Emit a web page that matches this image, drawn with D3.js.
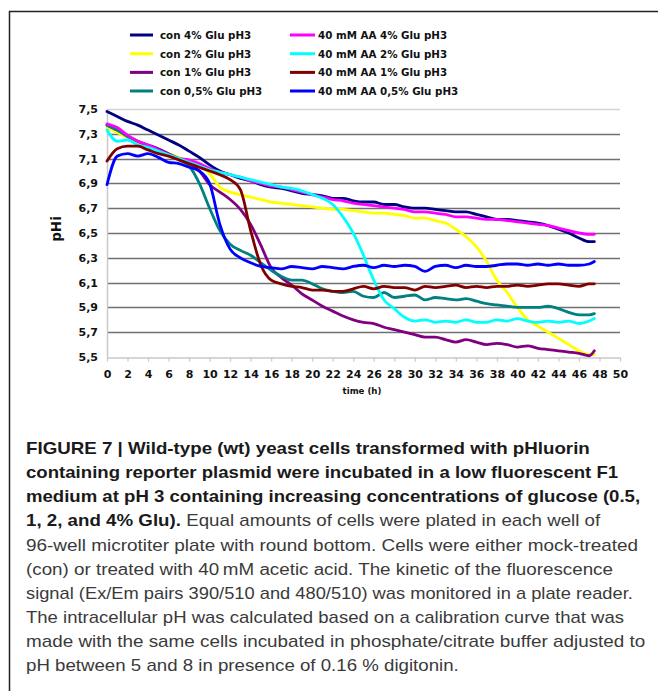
<!DOCTYPE html>
<html>
<head>
<meta charset="utf-8">
<script src="https://cdn.jsdelivr.net/npm/d3@7"></script>
<style>
  html, body { margin: 0; padding: 0; background: #fff; }
  svg { display: block; }
</style>
</head>
<body>
<svg id="fig" width="658" height="691"></svg>
<script>
// Sampling times (h) shared by all series
const hours = [0,1,2,3,4,5,6,7,8,9,10,11,12,13,14,15,16,17,18,19,20,21,22,23,24,
  25,26,27,28,29,30,31,32,33,34,35,36,37,38,39,40,41,42,43,44,45,46,47,47.5];

// Intracellular pH (pHi) per condition
const con4 = [7.48,7.44,7.40,7.37,7.33,7.29,7.25,7.21,7.16,7.11,
  7.05,7.00,6.97,6.94,6.92,6.89,6.87,6.86,6.84,6.82,
  6.81,6.80,6.78,6.78,6.76,6.75,6.75,6.73,6.73,6.71,
  6.70,6.70,6.69,6.68,6.67,6.67,6.65,6.63,6.61,6.61,
  6.60,6.59,6.58,6.56,6.53,6.50,6.46,6.43,6.43];
const con2 = [7.35,7.31,7.27,7.23,7.19,7.17,7.14,7.11,7.08,7.05,
  6.98,6.87,6.83,6.81,6.79,6.77,6.75,6.74,6.73,6.72,
  6.71,6.70,6.69,6.69,6.68,6.67,6.66,6.66,6.65,6.64,
  6.62,6.62,6.60,6.58,6.53,6.47,6.39,6.27,6.12,6.02,
  5.90,5.80,5.75,5.70,5.65,5.60,5.55,5.52,5.52];
const con1 = [7.37,7.33,7.28,7.24,7.21,7.18,7.14,7.10,7.06,7.00,
  6.89,6.83,6.77,6.69,6.57,6.40,6.22,6.14,6.08,6.01,
  5.96,5.91,5.87,5.83,5.80,5.78,5.77,5.74,5.72,5.70,
  5.68,5.66,5.66,5.64,5.62,5.64,5.62,5.60,5.61,5.60,
  5.58,5.59,5.57,5.56,5.55,5.54,5.53,5.51,5.55];
const con05 = [7.37,7.33,7.28,7.24,7.20,7.16,7.13,7.09,7.04,6.90,
  6.70,6.52,6.41,6.36,6.32,6.26,6.20,6.15,6.12,6.12,
  6.09,6.05,6.03,6.02,6.03,5.99,5.98,6.02,5.98,5.99,
  6.00,5.96,5.98,5.97,5.96,5.97,5.95,5.93,5.92,5.91,
  5.90,5.90,5.90,5.91,5.89,5.86,5.84,5.84,5.85];
const aa4 = [7.38,7.35,7.29,7.24,7.21,7.17,7.13,7.10,7.09,7.06,
  7.02,6.99,6.97,6.95,6.92,6.90,6.88,6.87,6.85,6.83,
  6.81,6.79,6.77,6.76,6.74,6.73,6.72,6.71,6.70,6.69,
  6.67,6.67,6.66,6.65,6.63,6.63,6.62,6.61,6.61,6.60,
  6.59,6.58,6.57,6.56,6.54,6.52,6.50,6.49,6.49];
const aa2 = [7.33,7.24,7.25,7.21,7.19,7.16,7.13,7.10,7.07,7.04,
  7.01,6.99,6.97,6.95,6.93,6.91,6.89,6.87,6.86,6.84,
  6.81,6.78,6.73,6.63,6.50,6.32,6.12,5.96,5.89,5.82,
  5.79,5.80,5.78,5.79,5.78,5.80,5.78,5.78,5.80,5.79,
  5.81,5.79,5.78,5.79,5.78,5.79,5.77,5.79,5.81];
const aa1 = [7.08,7.18,7.20,7.20,7.17,7.14,7.12,7.09,7.06,7.03,
  7.00,6.97,6.93,6.85,6.52,6.24,6.12,6.09,6.07,6.06,
  6.04,6.04,6.03,6.03,6.05,6.07,6.05,6.07,6.06,6.06,
  6.04,6.07,6.06,6.07,6.08,6.06,6.07,6.06,6.07,6.07,
  6.08,6.07,6.08,6.09,6.09,6.08,6.07,6.09,6.09];
const aa05 = [6.89,7.12,7.14,7.12,7.14,7.11,7.07,7.06,7.03,7.00,
  6.90,6.57,6.37,6.30,6.26,6.23,6.22,6.21,6.23,6.22,
  6.21,6.23,6.22,6.21,6.23,6.24,6.22,6.24,6.23,6.24,
  6.23,6.19,6.23,6.24,6.22,6.24,6.23,6.23,6.24,6.25,
  6.25,6.24,6.25,6.24,6.25,6.24,6.24,6.25,6.27];

const seriesNames = ["con 4% Glu pH3","con 2% Glu pH3","con 1% Glu pH3","con 0,5% Glu pH3",
  "40 mM AA 4% Glu pH3","40 mM AA 2% Glu pH3","40 mM AA 1% Glu pH3","40 mM AA 0,5% Glu pH3"];
const seriesValues = [con4, con2, con1, con05, aa4, aa2, aa1, aa05];
const seriesColors = ["#000080","#FFFF00","#800080","#008080","#FF00FF","#00FFFF","#800000","#0000FF"];

const xTicks = [0,2,4,6,8,10,12,14,16,18,20,22,24,26,28,30,32,34,36,38,40,42,44,46,48,50];
const yTicks = [5.5,5.7,5.9,6.1,6.3,6.5,6.7,6.9,7.1,7.3,7.5];
const yTickLabels = ["5,5","5,7","5,9","6,1","6,3","6,5","6,7","6,9","7,1","7,3","7,5"];

const captionLines = [
  [["FIGURE 7 | Wild-type (wt) yeast cells transformed with pHluorin", true]],
  [["containing reporter plasmid were incubated in a low fluorescent F1", true]],
  [["medium at pH 3 containing increasing concentrations of glucose (0.5,", true]],
  [["1, 2, and 4% Glu).", true], [" Equal amounts of cells were plated in each well of", false]],
  [["96-well microtiter plate with round bottom. Cells were either mock-treated", false]],
  [["(con) or treated with 40\u2009mM acetic acid. The kinetic of the fluorescence", false]],
  [["signal (Ex/Em pairs 390/510 and 480/510) was monitored in a plate reader.", false]],
  [["The intracellular pH was calculated based on a calibration curve that was", false]],
  [["made with the same cells incubated in phosphate/citrate buffer adjusted to", false]],
  [["pH between 5 and 8 in presence of 0.16 % digitonin.", false]]
];
// right edge of each caption line (null = keep the average condensing)
const captionRight = [590, 618, 640, 600, 638, 613, 633, 624, 645, null];

const svg = d3.select("#fig");
const FONT = "'DejaVu Sans', Verdana, sans-serif";

// page frame (left and top rules)
svg.append("path").attr("d", "M9.5,691 V11.5 H658")
  .attr("fill", "none").attr("stroke", "#222").attr("stroke-width", 1.5);

const x = d3.scaleLinear().domain([0, 50]).range([107, 620]);
const y = d3.scaleLinear().domain([5.5, 7.5]).range([357, 109]);

// horizontal gridlines
svg.append("g").selectAll("line")
  .data(yTicks.filter(v => v > 5.55))
  .join("line")
  .attr("x1", x(0)).attr("x2", x(50))
  .attr("y1", d => Math.round(y(d)) + 0.5).attr("y2", d => Math.round(y(d)) + 0.5)
  .attr("stroke", d => d > 7.45 ? "#d4d4d4" : "#707070")
  .attr("stroke-width", d => d > 7.45 ? 1.5 : 1.4);

// x axis
const xAxis = svg.append("g")
  .attr("transform", `translate(0,${Math.round(y(5.5)) + 0.5})`)
  .call(d3.axisBottom(x).tickValues(xTicks).tickSize(4).tickPadding(9).tickSizeOuter(0));
xAxis.select(".domain").attr("stroke", "#c8c8c8").attr("stroke-width", 1.5);
xAxis.selectAll(".tick line").attr("stroke", "#c8c8c8").attr("stroke-width", 1.2);
xAxis.selectAll(".tick text")
  .attr("font-family", FONT).attr("font-weight", "bold").attr("font-size", 11).attr("fill", "#111");

// y axis
const yAxis = svg.append("g")
  .attr("transform", `translate(${x(0)},0)`)
  .call(d3.axisLeft(y).tickValues(yTicks).tickSize(0).tickPadding(9)
    .tickFormat((d, i) => yTickLabels[i]));
yAxis.select(".domain").attr("stroke", "#c8c8c8").attr("stroke-width", 1.5);
yAxis.selectAll(".tick text")
  .attr("font-family", FONT).attr("font-weight", "bold").attr("font-size", 11).attr("fill", "#111");

// axis titles
svg.append("text")
  .attr("transform", `translate(61,229) rotate(-90)`)
  .attr("text-anchor", "middle")
  .attr("font-family", FONT).attr("font-weight", "bold").attr("font-size", 13.5).attr("fill", "#111")
  .text("pHi");
svg.append("text")
  .attr("x", 362).attr("y", 394)
  .attr("text-anchor", "middle")
  .attr("font-family", FONT).attr("font-weight", "bold").attr("font-size", 8.6).attr("fill", "#111")
  .text("time (h)");

// series lines
const line = d3.line()
  .x((d, i) => x(hours[i]))
  .y(d => y(d))
  .curve(d3.curveMonotoneX);
svg.append("g").selectAll("path")
  .data(seriesValues)
  .join("path")
  .attr("d", line)
  .attr("fill", "none")
  .attr("stroke", (d, i) => seriesColors[i])
  .attr("stroke-width", 2.8)
  .attr("stroke-linejoin", "round")
  .attr("stroke-linecap", "round");

// legend: two columns, con on the left, acetic acid on the right
const legendCols = [{lx1: 130, lx2: 153, tx: 160}, {lx1: 290, lx2: 315, tx: 318}];
const legendRowY = [35, 53.7, 72.4, 91];
const legend = svg.append("g");
seriesNames.forEach((name, i) => {
  const col = legendCols[Math.floor(i / 4)];
  const ry = legendRowY[i % 4];
  legend.append("line")
    .attr("x1", col.lx1).attr("x2", col.lx2).attr("y1", ry).attr("y2", ry)
    .attr("stroke", seriesColors[i]).attr("stroke-width", 3);
  legend.append("text")
    .attr("x", col.tx).attr("y", ry + 4)
    .attr("font-family", FONT).attr("font-weight", "bold").attr("font-size", 10.3).attr("fill", "#111")
    .text(name);
});

// caption, each line condensed horizontally to its measured width
const capFont = "'Liberation Sans Narrow', 'Liberation Sans', Arial, sans-serif";
const capX = 26, capY0 = 454, capStep = 24.15;
const capScales = [];
const capNodes = captionLines.map((parts, li) => {
  const t = svg.append("text")
    .attr("font-family", capFont).attr("font-size", 16.2);
  parts.forEach(([s, bold]) => {
    t.append("tspan")
      .attr("font-weight", bold ? "bold" : "normal")
      .attr("fill", bold ? "#1a1a1a" : "#3a3a3a")
      .text(s);
  });
  return t;
});
capNodes.forEach((t, li) => {
  const w = t.node().getComputedTextLength();
  const target = captionRight[li];
  capScales[li] = target ? (target - capX) / w : null;
});
const meanScale = d3.mean(capScales.filter((s, i) => s && i >= 4));
capNodes.forEach((t, li) => {
  const s = capScales[li] || meanScale;
  t.attr("transform", `translate(${capX},${capY0 + li * capStep}) scale(${s},1)`);
});
</script>
</body>
</html>
